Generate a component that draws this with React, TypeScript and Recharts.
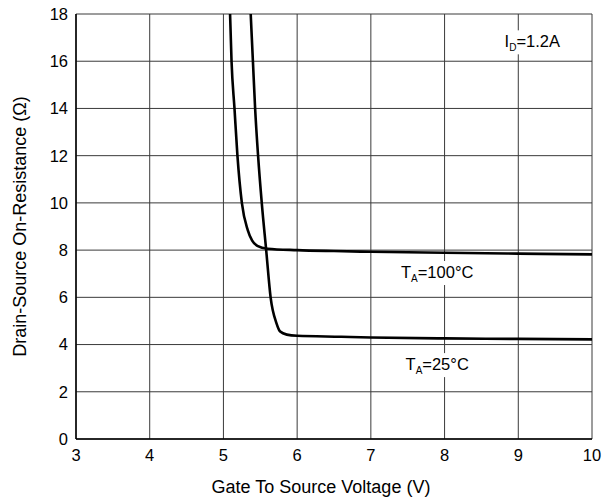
import React from 'react';
import {
  LineChart,
  Line,
  XAxis,
  YAxis,
  CartesianGrid,
  ReferenceDot,
} from 'recharts';

// Gate-source voltage (V) vs on-resistance (ohm)
const vgsHot = [5.09, 5.11, 5.15, 5.19, 5.25, 5.33, 5.39, 5.46, 5.6, 6, 6.5, 7, 8, 9, 10];
const rdsHot = [18, 16, 14, 12, 10, 8.85, 8.4, 8.18, 8.06, 8.0, 7.96, 7.93, 7.89, 7.85, 7.82];

const vgsRoom = [5.37, 5.4, 5.43, 5.47, 5.52, 5.58, 5.64, 5.72, 5.77, 5.86, 6, 6.6, 7, 8, 9, 10];
const rdsRoom = [18, 16, 14, 12, 10, 8, 6, 4.9, 4.55, 4.42, 4.37, 4.33, 4.3, 4.26, 4.24, 4.22];

const xTicks = [3, 4, 5, 6, 7, 8, 9, 10];
const yTicks = [0, 2, 4, 6, 8, 10, 12, 14, 16, 18];

const FONT = '"Liberation Sans", Arial, sans-serif';

const hotData = vgsHot.map((v, i) => ({ vgs: v, rds: rdsHot[i] }));
const roomData = vgsRoom.map((v, i) => ({ vgs: v, rds: rdsRoom[i] }));

// text label with a white box behind it, main text + subscript + rest
const Note = (main: string, sub: string, rest: string, width: number) => (props: any) => {
  const { cx, cy } = props;
  return (
    <g>
      <rect x={cx - width / 2} y={cy - 12} width={width} height={24} fill="#fff" />
      <text x={cx} y={cy + 5} textAnchor="middle" fontFamily={FONT} fontSize={16.5} fill="#000">
        {main}
        <tspan fontSize={10} dy={4}>{sub}</tspan>
        <tspan dy={-4}>{rest}</tspan>
      </text>
    </g>
  );
};

export default function App() {
  return (
    <div style={{ position: 'absolute', left: 0, top: 0, width: 614, height: 501, background: '#fff' }}>
      <LineChart
        width={614}
        height={501}
        margin={{ top: 14, right: 22, left: 0, bottom: 0 }}
      >
        <CartesianGrid stroke="#3a3a3a" strokeWidth={1} />
        <XAxis
          type="number"
          dataKey="vgs"
          domain={[3, 10]}
          ticks={xTicks}
          allowDataOverflow
          height={62}
          tickLine={false}
          axisLine={{ stroke: '#000', strokeWidth: 1.5 }}
          tick={{ fill: '#000', fontSize: 16.5, fontFamily: FONT }}
          tickMargin={4}
          label={{
            value: 'Gate To Source Voltage (V)',
            position: 'insideBottom',
            offset: 8,
            dx: -13,
            fill: '#000',
            fontSize: 18,
            fontFamily: FONT,
          }}
        />
        <YAxis
          type="number"
          dataKey="rds"
          domain={[0, 18]}
          ticks={yTicks}
          allowDataOverflow
          width={76}
          tickLine={false}
          axisLine={{ stroke: '#000', strokeWidth: 1.5 }}
          tick={{ fill: '#000', fontSize: 16.5, fontFamily: FONT }}
          tickMargin={2}
          label={{
            value: 'Drain-Source On-Resistance (Ω)',
            angle: -90,
            position: 'insideLeft',
            offset: 20,
            style: { textAnchor: 'middle' },
            fill: '#000',
            fontSize: 18,
            fontFamily: FONT,
          }}
        />
        <Line
          data={hotData}
          dataKey="rds"
          type="monotone"
          stroke="#000"
          strokeWidth={2.6}
          dot={false}
          isAnimationActive={false}
        />
        <Line
          data={roomData}
          dataKey="rds"
          type="monotone"
          stroke="#000"
          strokeWidth={2.6}
          dot={false}
          isAnimationActive={false}
        />
        <ReferenceDot x={9.19} y={16.8} r={0} shape={Note('I', 'D', '=1.2A', 62)} />
        <ReferenceDot x={7.9} y={7.03} r={0} shape={Note('T', 'A', '=100°C', 76)} />
        <ReferenceDot x={7.9} y={3.13} r={0} shape={Note('T', 'A', '=25°C', 68)} />
      </LineChart>
    </div>
  );
}
